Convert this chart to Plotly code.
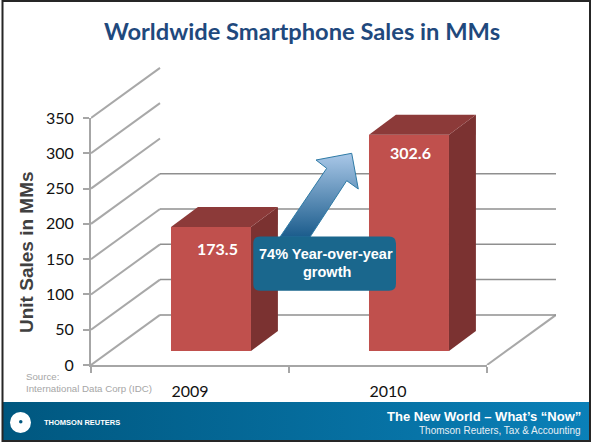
import plotly.graph_objects as go

# ---- data ----
categories = ["2009", "2010"]
unit_sales = [173.5, 302.6]
axis_ticks = [0, 50, 100, 150, 200, 250, 300, 350]
wall_ticks = [0, 50, 100, 150, 200]
title_text = "Worldwide Smartphone Sales in MMs"
axis_title = "Unit Sales in MMs"
callout_lines = ["74% Year-over-year", "growth"]
source_lines = ["Source:", "International Data Corp (IDC)"]
footer_main = "The New World – What’s “Now”"
footer_sub = "Thomson Reuters, Tax & Accounting"
logo_text = "THOMSON REUTERS"

W, H = 591, 444
# pseudo-3D projection, in axis units
WALL_DX, WALL_DY = 69 / 198, 71
BAR_WIDTH, BAR_SHIFT = 0.404, 0.106
BAR_DX, BAR_DY = 0.136, 28
FRONT, SIDE, TOP = "#c0504d", "#7b3231", "#8c3a39"
GRID, DIAG = "#8f8f8f", "#a8a8a8"

def px_x(p): return p / W
def px_y(p): return 1 - p / H

fig = go.Figure()

# front axes: invisible trace that keeps the x/y pair in the figure
fig.add_trace(go.Scatter(x=[i + 0.5 for i in range(len(categories))], y=unit_sales,
                         mode="none", hoverinfo="skip", showlegend=False))

# back wall + perspective lines (hidden axes that extend past the front axes)
dx, dy = [], []
for v in axis_ticks:
    dx += [0, WALL_DX, None]
    dy += [v, v + WALL_DY, None]
dx += [2, 2 + WALL_DX]
dy += [0, WALL_DY]
fig.add_trace(go.Scatter(x=dx, y=dy, xaxis="x2", yaxis="y2", mode="lines",
                         line=dict(color=DIAG, width=2),
                         hoverinfo="skip", showlegend=False))
gx, gy = [], []
for v in wall_ticks:
    gx += [WALL_DX, 2 + WALL_DX, None]
    gy += [v + WALL_DY, v + WALL_DY, None]
fig.add_trace(go.Scatter(x=gx, y=gy, xaxis="x2", yaxis="y2", mode="lines",
                         line=dict(color=GRID, width=1.5),
                         hoverinfo="skip", showlegend=False))

# bars
centers = [i + 0.5 + BAR_SHIFT for i in range(len(categories))]
fig.add_trace(go.Bar(x=centers, y=unit_sales, width=BAR_WIDTH, xaxis="x3", yaxis="y3",
                     marker=dict(color=FRONT, line=dict(width=0)), cliponaxis=False,
                     showlegend=False))
for c, v in zip(centers, unit_sales):
    l, r = c - BAR_WIDTH / 2, c + BAR_WIDTH / 2
    fig.add_trace(go.Scatter(x=[r, r + BAR_DX, r + BAR_DX, r, r],
                             y=[0, BAR_DY, v + BAR_DY, v, 0], xaxis="x3", yaxis="y3",
                             mode="lines", fill="toself", fillcolor=SIDE, line=dict(width=0),
                             hoverinfo="skip", showlegend=False))
    fig.add_trace(go.Scatter(x=[l, r, r + BAR_DX, l + BAR_DX, l],
                             y=[v, v, v + BAR_DY, v + BAR_DY, v], xaxis="x3", yaxis="y3",
                             mode="lines", fill="toself", fillcolor=TOP, line=dict(width=0),
                             hoverinfo="skip", showlegend=False))

# decoration on a pixel-scaled helper axis: footer band and growth arrow
fig.add_trace(go.Scatter(x=[3, 590, 590, 3, 3], y=[402, 402, 440, 440, 402],
                         xaxis="x4", yaxis="y4", mode="lines", fill="toself",
                         line=dict(width=0),
                         fillgradient=dict(type="horizontal",
                                           colorscale=[[0, "#00577f"], [1, "#0a80b8"]]),
                         hoverinfo="skip", showlegend=False))
fig.add_trace(go.Scatter(x=[351.7, 316, 326.7, 280, 310, 346.7, 358.3, 351.7],
                         y=[153.3, 160, 168.3, 237, 237, 180.7, 189, 153.3],
                         xaxis="x4", yaxis="y4", mode="lines", fill="toself",
                         line=dict(width=1, color="#2f7ba6"),
                         fillgradient=dict(type="vertical",
                                           colorscale=[[0, "#1b5c8c"], [1, "#aac8e8"]]),
                         hoverinfo="skip", showlegend=False))

# callout box (rounded rectangle)
x0, x1, y0, y1, rad = 253.3, 396, 236.5, 290.7, 7
box = (f"M {x0+rad} {y0} L {x1-rad} {y0} Q {x1} {y0} {x1} {y0+rad} "
       f"L {x1} {y1-rad} Q {x1} {y1} {x1-rad} {y1} L {x0+rad} {y1} "
       f"Q {x0} {y1} {x0} {y1-rad} L {x0} {y0+rad} Q {x0} {y0} {x0+rad} {y0} Z")
shapes = [
    dict(type="path", xref="x4", yref="y4", path=box, fillcolor="#1a678d",
         line=dict(width=0), layer="above"),
    dict(type="circle", xref="x4", yref="y4", x0=10, x1=31, y0=412, y1=433,
         fillcolor="white", line=dict(width=0), layer="above"),
    dict(type="circle", xref="x4", yref="y4", x0=19, x1=22.5, y0=420, y1=423.5,
         fillcolor="#00577f", line=dict(width=0), layer="above"),
    dict(type="rect", xref="x4", yref="y4", x0=2.5, x1=590, y0=1, y1=441,
         fillcolor="rgba(0,0,0,0)", line=dict(width=2, color="#262626"), layer="above"),
]

def note(text, x, y, size, color, family="Liberation Sans", bold=False, anchor="center", **kw):
    return dict(text=f"<b>{text}</b>" if bold else text, x=x, y=y, xref="x4", yref="y4",
                xanchor=anchor, yanchor="middle", showarrow=False,
                font=dict(family=family, size=size, color=color), **kw)

anns = [
    note(axis_title, 26, 252, 19, "#404040", bold=True, textangle=-90),
    note(source_lines[0], 24, 376, 9.7, "#a6a6a6", anchor="left"),
    note(source_lines[1], 24, 388, 9.7, "#a6a6a6", anchor="left"),
    note(callout_lines[0], 326, 254, 14.5, "white", bold=True),
    note(callout_lines[1], 327, 272, 14.5, "white", bold=True),
    note(footer_main, 583, 416, 13, "white", bold=True, anchor="right"),
    note(footer_sub, 583, 430, 10, "#e6eef4", anchor="right"),
    note(logo_text, 42, 422, 7.5, "white", bold=True, anchor="left"),
]
for c, v, xs, ys in zip(centers, unit_sales, [7, 2], [-21, -18]):
    anns.append(dict(text=f"<b>{v}</b>", x=c, y=v, xref="x3", yref="y3", xshift=xs, yshift=ys,
                     showarrow=False, xanchor="center", yanchor="middle",
                     font=dict(family="Lato", size=16, color="white")))

hidden = dict(visible=False, automargin=False, fixedrange=True)
fig.update_layout(
    width=W, height=H, margin=dict(l=0, r=0, t=0, b=0),
    paper_bgcolor="white", plot_bgcolor="rgba(0,0,0,0)", showlegend=False,
    title=dict(text=f"<b>{title_text}</b>", x=302 / W, y=px_y(32), xanchor="center",
               yanchor="middle", automargin=False,
               font=dict(family="Lato", size=23.7, color="#1f497d")),
    xaxis=dict(domain=[px_x(91), px_x(487)], range=[0, 2], tickmode="array",
               tickvals=[i + 0.5 for i in range(len(categories))], ticktext=categories,
               ticks="", showgrid=False, zeroline=False, showline=True, automargin=False,
               linecolor="#a6a6a6", linewidth=2, ticklabelstandoff=11,
               tickfont=dict(family="Lato", size=16, color="#111111"),
               minor=dict(tickmode="array", tickvals=[0, 1, 2], ticks="outside", ticklen=6,
                          tickwidth=1.5, tickcolor="#a6a6a6", showgrid=False),
               anchor="y"),
    yaxis=dict(domain=[px_y(365), px_y(118)], range=[0, 350], tickmode="array",
               tickvals=axis_ticks, ticks="outside", ticklen=6, tickwidth=1.5, automargin=False,
               tickcolor="#a6a6a6", showgrid=False, zeroline=False, showline=True,
               linecolor="#a6a6a6", linewidth=2, ticklabelstandoff=6,
               tickfont=dict(family="Lato", size=16, color="#111111"), anchor="x"),
    xaxis2=dict(domain=[px_x(91), px_x(556)], range=[0, 2 + WALL_DX], anchor="y2", **hidden),
    yaxis2=dict(domain=[px_y(365), px_y(60)], range=[0, 305 / (247 / 350)], anchor="x2", **hidden),
    xaxis3=dict(domain=[px_x(91), px_x(487)], range=[0, 2], anchor="y3", **hidden),
    yaxis3=dict(domain=[px_y(351), px_y(101)], range=[0, 350], anchor="x3", **hidden),
    xaxis4=dict(domain=[0, 1], range=[0, W], anchor="y4", **hidden),
    yaxis4=dict(domain=[0, 1], range=[H, 0], anchor="x4", **hidden),
    shapes=shapes, annotations=anns, hovermode=False,
)
fig.write_html("out.html", config=dict(displayModeBar=False),
               post_script="document.body.style.margin='0';")
